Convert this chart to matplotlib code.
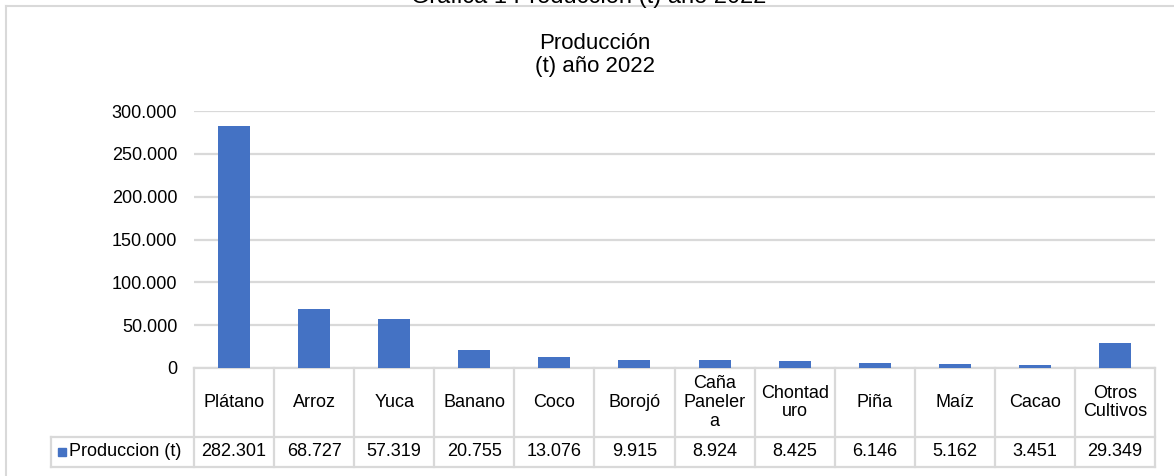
import matplotlib.pyplot as plt
import numpy as np
from matplotlib.ticker import FuncFormatter
from matplotlib.patches import Rectangle
from matplotlib.lines import Line2D

plt.rcParams['font.family'] = ['Liberation Sans', 'DejaVu Sans']

# datos
cultivos = ['Plátano', 'Arroz', 'Yuca', 'Banano', 'Coco', 'Borojó',
            'Caña\nPaneler\na', 'Chontad\nuro', 'Piña', 'Maíz', 'Cacao',
            'Otros\nCultivos']
produccion = [282301, 68727, 57319, 20755, 13076, 9915, 8924, 8425,
              6146, 5162, 3451, 29349]
serie = 'Produccion (t)'
yticks = [0, 50000, 100000, 150000, 200000, 250000, 300000]

W, H = 1174, 476
azul = '#4472C4'
gris = '#d9d9d9'

def miles(v):
    return f"{int(v):,}".replace(",", ".")

fig = plt.figure(figsize=(W / 100, H / 100), dpi=100)

# posicion del area de trazado (px)
x0, x1 = 194, 1155
y_top, y_zero = 111, 368
ax = fig.add_axes([x0 / W, (H - y_zero) / H, (x1 - x0) / W, (y_zero - y_top) / H])

x = np.arange(len(cultivos))
ax.bar(x, produccion, width=0.4, color=azul, zorder=3)
ax.set_xlim(-0.5, len(cultivos) - 0.5)
ax.set_ylim(0, 300000)
ax.set_yticks(yticks)
ax.yaxis.set_major_formatter(FuncFormatter(lambda v, p: miles(v)))
ax.tick_params(axis='y', length=0, pad=12, labelsize=13)
ax.set_xticks([])
ax.grid(axis='y', color=gris, lw=1.6, zorder=0)
for s in ax.spines.values():
    s.set_visible(False)

# tabla de datos debajo
axw = x1 - x0
axh = y_zero - y_top
def ay(py):
    return -(py - y_zero) / axh
def axx(px):
    return (px - x0) / axw

r1_bot = ay(437)
r2_bot = ay(467)
leg_left = axx(51)
kw = dict(transform=ax.transAxes, color=gris, lw=1.6, clip_on=False)
ax.add_line(Line2D([0, 1], [0, 0], **kw))
ax.add_line(Line2D([leg_left, 1], [r1_bot, r1_bot], **kw))
ax.add_line(Line2D([leg_left, 1], [r2_bot, r2_bot], **kw))
ax.add_line(Line2D([leg_left, leg_left], [r1_bot, r2_bot], **kw))
n = len(cultivos)
for i in range(n + 1):
    ax.add_line(Line2D([i / n, i / n], [0, r2_bot], **kw))

for i, (c, v) in enumerate(zip(cultivos, produccion)):
    xc = (i + 0.5) / n
    ax.text(xc, (0 + r1_bot) / 2, c, transform=ax.transAxes, ha='center',
            va='center', fontsize=13, linespacing=1.15)
    ax.text(xc, (r1_bot + r2_bot) / 2, miles(v), transform=ax.transAxes,
            ha='center', va='center', fontsize=13)

# leyenda en la tabla
ax.add_patch(Rectangle((axx(58), ay(456)), axx(66) - axx(58), ay(448) - ay(456),
                       transform=ax.transAxes, color=azul, clip_on=False))
ax.text(axx(69), (r1_bot + r2_bot) / 2, serie, transform=ax.transAxes,
        ha='left', va='center', fontsize=13)

# marco y titulos
fig.add_artist(Line2D([6 / W, 1], [1 - 6 / H, 1 - 6 / H], color=gris, lw=1.5))
fig.add_artist(Line2D([6 / W, 6 / W], [0, 1 - 6 / H], color=gris, lw=1.5))
fig.text(589 / W, 1 - 3 / H, 'Gráfica 1 Producción (t) año 2022', ha='center',
         va='baseline', fontsize=17)
fig.text(595 / W, 1 - 55 / H, 'Producción\n(t) año 2022', ha='center',
         va='center', fontsize=16, linespacing=1.15)

fig.savefig('out.png', dpi=100)
